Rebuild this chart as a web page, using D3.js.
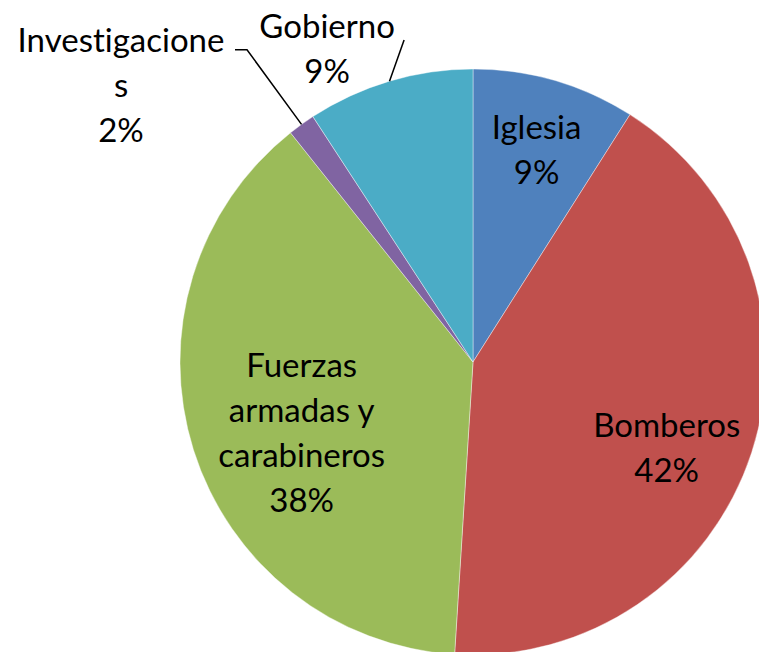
<!DOCTYPE html>
<html>
<head>
<meta charset="utf-8">
<script src="https://cdn.jsdelivr.net/npm/d3@7"></script>
<style>
  html, body { margin: 0; padding: 0; background: #fff; }
  svg { display: block; }
  .label { font-family: Lato, "Open Sans", sans-serif; font-size: 33px; fill: #000;
           font-variant-ligatures: none; font-feature-settings: "liga" 0; }
</style>
</head>
<body>
<div id="chart"></div>
<script>
// Data
const categories = ["Iglesia", "Bomberos", "Fuerzas armadas y carabineros", "Investigaciones", "Gobierno"];
const values = [9.0, 42.0, 38.3, 1.5, 9.2];
const percentLabels = ["9%", "42%", "38%", "2%", "9%"];
// Line breaks as the chart wraps them
const labelLines = [
    ["Iglesia"],
    ["Bomberos"],
    ["Fuerzas", "armadas y", "carabineros"],
    ["Investigacione", "s"],
    ["Gobierno"]
];
const colors = ["#4F81BD", "#C0504D", "#9BBB59", "#8064A2", "#4BACC6"];

// Chart dimensions
const width = 759, height = 652;
const cx = 473, cy = 362, radius = 293;
const lineHeight = 45;

// Label placement: inside labels sit on the centroid ring, outside ones on an outer ring,
// nudged like Excel's "best fit". Leader points are relative to (label x, first baseline).
const labelLayout = [
    { ring: 210, dx: 5, dy: -10 },
    { ring: 210, dx: -6, dy: 21 },
    { ring: 210, dx: 29, dy: 8 },
    { ring: 340, dx: -153, dy: -1, leader: [[126, -2], [114, -2]] },
    { ring: 340, dx: -49, dy: 13, leader: [[77, 2]] }
];

const svg = d3.select("#chart")
    .append("svg")
    .attr("width", width)
    .attr("height", height);

const g = svg.append("g")
    .attr("transform", `translate(${cx},${cy})`);

const pie = d3.pie()
    .sort(null)
    .value(d => d);

const arcs = pie(values);

const arc = d3.arc()
    .innerRadius(0)
    .outerRadius(radius);

g.selectAll(".slice")
    .data(arcs)
    .enter().append("path")
    .attr("class", "slice")
    .attr("d", arc)
    .attr("fill", (d, i) => colors[i])
    .attr("stroke", "#fff")
    .attr("stroke-width", 0.4);

// Labels
arcs.forEach((d, i) => {
    const lay = labelLayout[i];
    const ringArc = d3.arc().innerRadius(lay.ring).outerRadius(lay.ring);
    const [px, py] = ringArc.centroid(d);
    const lx = px + lay.dx, ly = py + lay.dy;
    const lines = labelLines[i].concat([percentLabels[i]]);
    // vertical centre of the block -> first baseline
    const capHeight = 23;
    const blockH = capHeight + (lines.length - 1) * lineHeight;
    const firstBase = ly - blockH / 2 + capHeight;

    const text = g.append("text")
        .attr("class", "label")
        .attr("text-anchor", "middle");
    lines.forEach((t, k) => {
        text.append("tspan")
            .attr("x", lx)
            .attr("y", firstBase + k * lineHeight)
            .text(t);
    });

    if (lay.leader) {
        const edge = d3.arc().innerRadius(radius).outerRadius(radius).centroid(d);
        const pts = [edge].concat(lay.leader.map(p => [lx + p[0], firstBase + p[1]]));
        g.append("path")
            .attr("d", d3.line()(pts))
            .attr("fill", "none")
            .attr("stroke", "#000")
            .attr("stroke-width", 1.5);
    }
});
</script>
</body>
</html>
